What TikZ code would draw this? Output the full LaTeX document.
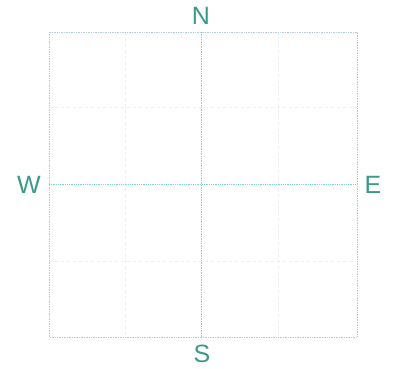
\documentclass[tikz,border=0pt]{standalone}
\usepackage{fontspec}
\setmainfont{Liberation Sans}
\definecolor{lab}{HTML}{3A9A88}
\definecolor{frame}{HTML}{B4CCD8}
\definecolor{midv}{HTML}{A8C2D0}
\definecolor{midh}{HTML}{7ED6CE}
\definecolor{faint}{HTML}{EAF0F2}
\begin{document}
\begin{tikzpicture}[x=1pt,y=-1pt,
  dirlabel/.style={text=lab,font=\fontsize{25}{25}\selectfont,inner sep=0pt},
  frameline/.style={draw=frame,line width=0.7pt,densely dotted},
  faintline/.style={draw=faint,line width=0.8pt,dashed}]
\useasboundingbox (0,0) rectangle (394,368);
\fill[white] (0,0) rectangle (394,368);
\coordinate (tl) at (49,32);
\coordinate (br) at (357,337);
% faint inner grid
\draw[faintline] (125,32) -- (125,337);
\draw[faintline] (278,32) -- (278,337);
\draw[faintline] (49,107) -- (357,107);
\draw[faintline] (49,261) -- (357,261);
% frame
\draw[frameline] (tl) rectangle (br);
% centre lines
\coordinate (nt) at (201,32);
\coordinate (sb) at (201,337);
\coordinate (wl) at (49,184);
\coordinate (er) at (357,184);
\draw[draw=midv,line width=0.7pt,densely dotted] (nt) -- (sb);
\draw[draw=midh,line width=0.8pt,densely dotted] (wl) -- (er);
% labels
\node[dirlabel] (N) at (201,16) {N};
\node[dirlabel] (S) at (202,354) {S};
\node[dirlabel] (W) at (29,185) {W};
\node[dirlabel] (E) at (373,185) {E};
\end{tikzpicture}
\end{document}
